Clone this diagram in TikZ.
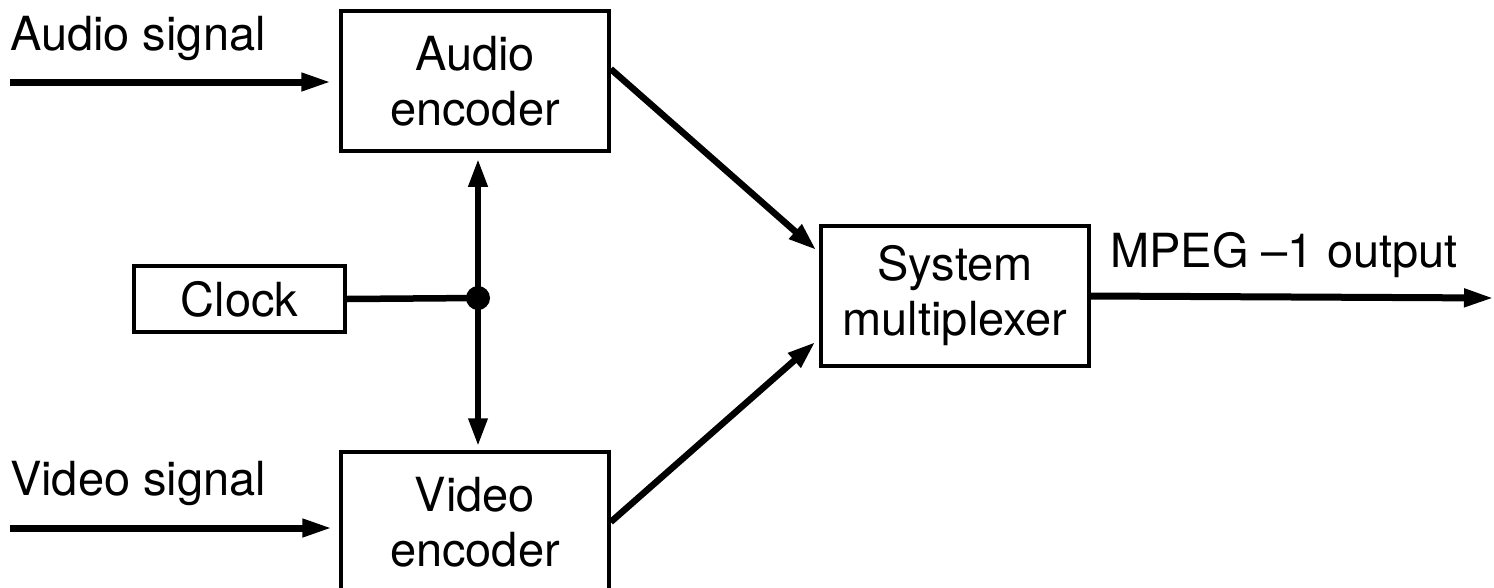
\documentclass[tikz,border=0pt]{standalone}
\usepackage{fontspec}
\setmainfont{TeX Gyre Heros}
\usetikzlibrary{arrows.meta}
\tikzset{
  blockbox/.style={draw, line width=3.5pt, inner sep=0pt, align=center,
    font={\fontsize{47}{55}\selectfont}},
  lbl/.style={inner sep=0pt, anchor=base west, font={\fontsize{47}{55}\selectfont}},
  conn/.style={line width=6.5pt, -{Triangle[length=28pt,width=18pt]}},
  sig/.style={line width=7pt, -{Triangle[length=30pt,width=17pt]}},
}
\begin{document}
\begin{tikzpicture}[x=1pt,y=-1pt]
\useasboundingbox (0,0) rectangle (1494,587);
\clip (0,0) rectangle (1494,587);
% blocks
\node[blockbox, minimum width=268pt, minimum height=140pt] (audioenc) at (475,81) {Audio\\encoder};
\node[blockbox, minimum width=268pt, minimum height=140pt] (videoenc) at (475,522) {Video\\encoder};
\node[blockbox, minimum width=211pt, minimum height=66pt] (clock) at (239.5,299) {Clock};
\node[blockbox, minimum width=268pt, minimum height=140pt] (mux) at (955,296) {System\\multiplexer};
% labels
\node[lbl] (alabel) at (10,50) {Audio signal};
\node[lbl] (vlabel) at (10,495) {Video signal};
\node[lbl] (olabel) at (1110,267) {MPEG –1 output};
% junction
\fill (478,298) circle (12pt);
\coordinate (dot) at (478,298);
\coordinate (asrc) at (10,82);
\coordinate (vsrc) at (10,528);
\coordinate (oend) at (1494,298);
% connectors
\draw[sig, shorten >=8pt] (asrc) -- (asrc -| audioenc.west);
\draw[sig, shorten >=7pt] (vsrc) -- (vsrc -| videoenc.west);
\draw[line width=6.5pt] (clock.east) -- (dot);
\draw[conn, shorten >=6pt] (dot) -- (dot |- audioenc.south);
\draw[conn, shorten >=4pt] (dot) -- (dot |- videoenc.north);
\draw[conn] ([yshift=12pt]audioenc.east) -- ([xshift=-3pt,yshift=46pt]mux.west);
\draw[conn] (videoenc.east) -- ([xshift=-4pt,yshift=-46pt]mux.west);
\draw[sig] (mux.east) -- (oend);
\end{tikzpicture}
\end{document}
